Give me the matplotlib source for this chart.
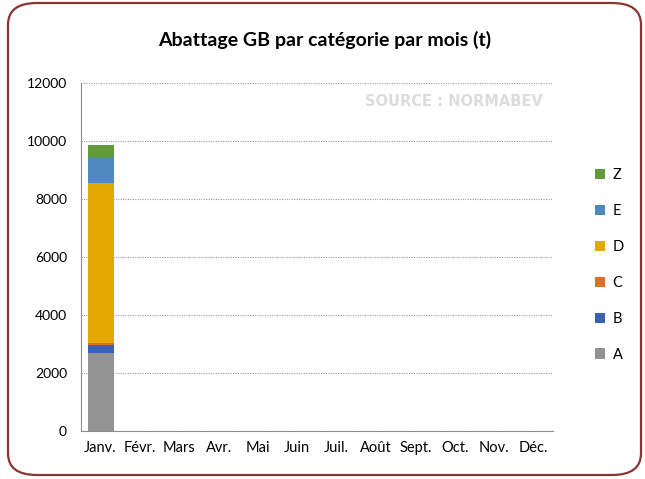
import matplotlib.pyplot as plt
from matplotlib.patches import FancyBboxPatch

# Données (t)
mois = ['Janv.', 'Févr.', 'Mars', 'Avr.', 'Mai', 'Juin', 'Juil.', 'Août', 'Sept.', 'Oct.', 'Nov.', 'Déc.']
categories = ['A', 'B', 'C', 'D', 'E', 'Z']
A = [2700] + [0] * 11
B = [265] + [0] * 11
C = [80] + [0] * 11
D = [5505] + [0] * 11
E = [900] + [0] * 11
Z = [410] + [0] * 11
series = [A, B, C, D, E, Z]
couleurs = ['#939393', '#3A62B0', '#D9702A', '#E3A800', '#4E8AC0', '#629A3C']

plt.rcParams['font.family'] = ['Lato', 'DejaVu Sans']

fig = plt.figure(figsize=(6.45, 4.79), dpi=100)
W, H = 645, 479

# cadre arrondi
cadre = FancyBboxPatch((8 / W, 4 / H), 633 / W, 472 / H,
                       boxstyle="round,pad=0,rounding_size=0.045",
                       transform=fig.transFigure, facecolor='white',
                       edgecolor='#8B3434', linewidth=1.6, zorder=-10)
fig.patches.append(cadre)

ax = fig.add_axes([81 / W, (H - 431) / H, 472 / W, 348 / H])
ax.set_facecolor('none')

x = range(len(mois))
bas = [0] * len(mois)
for nom, vals, c in zip(categories, series, couleurs):
    ax.bar(x, vals, width=0.66, bottom=bas, color=c, label=nom, zorder=3)
    bas = [b + v for b, v in zip(bas, vals)]

ax.set_xlim(-0.5, 11.5)
ax.set_ylim(0, 12000)
ax.set_yticks(range(0, 12001, 2000))
ax.set_xticks(list(x))
ax.set_xticklabels(mois, fontsize=10.5)
ax.tick_params(axis='y', labelsize=10, length=0, pad=10)
ax.tick_params(axis='x', length=0, pad=7)
ax.grid(axis='y', linestyle=(0, (1, 1.2)), color='#9A9A9A', linewidth=0.8, zorder=0)
for s in ['top', 'right']:
    ax.spines[s].set_visible(False)
ax.spines['left'].set_color('#8C8C8C')
ax.spines['bottom'].set_color('#8C8C8C')

fig.text(325 / W, 1 - 40 / H, 'Abattage GB par catégorie par mois (t)',
         ha='center', va='center', fontsize=14, fontweight='bold')
ax.text(0.79, (431 - 102) / 348, 'SOURCE : NORMABEV', transform=ax.transAxes,
        ha='center', va='center', fontsize=10.5, fontweight='bold', color='#DCDCDC',
        family=['DejaVu Sans'])

# légende (ordre inversé)
handles, labels = ax.get_legend_handles_labels()
leg = fig.legend(handles[::-1], labels[::-1], loc='center left',
                 bbox_to_anchor=(582 / W, 1 - 265 / H), frameon=False,
                 fontsize=10.5, handlelength=0.7, handleheight=0.7,
                 labelspacing=1.5, handletextpad=0.5)

fig.savefig('out.png', dpi=100)
